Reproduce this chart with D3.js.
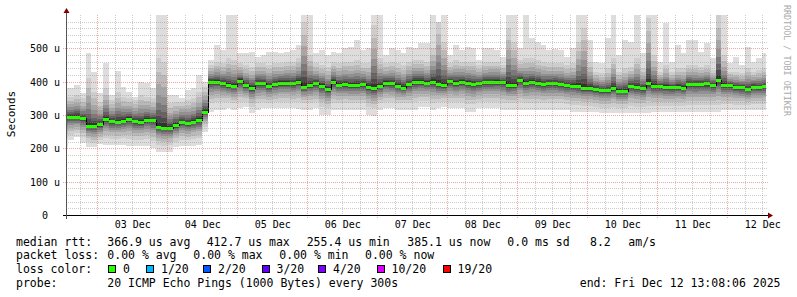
<!DOCTYPE html>
<html>
<head>
<meta charset="utf-8">
<title>smokeping rtt</title>
<script src="https://cdn.jsdelivr.net/npm/d3@7"></script>
<style>
    body { margin: 0; background: #fff; }
    svg { display: block; font-family: "DejaVu Sans Mono", monospace; }
    .axis path, .axis line { display: none; }
    .axis text { font-family: "DejaVu Sans Mono", monospace; font-size: 10px; fill: #000; }
</style>
</head>
<body>
<script>
// 2 hour bins, first one starts Dec 2 12:00 (UTC), values in microseconds
var binStart = Date.UTC(2025, 11, 2, 12);
var binMs = 2 * 3600 * 1000;
var endTime = Date.UTC(2025, 11, 12, 13, 8, 6);

var med = [295, 295, 295, 290, 268, 268, 272, 287, 281, 280,
    283, 289, 281, 279, 286, 284, 265, 262, 262, 270,
    279, 275, 280, 284, 310, 400, 400, 396, 390, 388,
    403, 390, 382, 396, 395, 387, 393, 397, 397, 395,
    400, 385, 390, 395, 388, 378, 400, 391, 393, 390,
    390, 392, 385, 380, 388, 397, 395, 388, 382, 392,
    400, 400, 397, 400, 392, 390, 401, 396, 400, 397,
    393, 395, 398, 399, 400, 398, 389, 390, 405, 396,
    399, 397, 392, 395, 396, 393, 390, 388, 386, 380,
    380, 378, 374, 374, 382, 373, 373, 387, 383, 380,
    395, 387, 386, 384, 383, 385, 382, 393, 392, 393,
    395, 390, 405, 389, 389, 384, 383, 378, 385, 383,
    386];

var hi = [380, 380, 390, 365, 485, 430, 365, 455, 360, 432,
    385, 370, 355, 400, 395, 380, 620, 620, 360, 360,
    350, 375, 380, 420, 400, 465, 510, 495, 620, 620,
    485, 485, 490, 475, 480, 490, 490, 485, 490, 495,
    510, 620, 620, 485, 495, 480, 490, 485, 500, 505,
    525, 495, 500, 620, 620, 480, 500, 495, 485, 505,
    500, 515, 515, 620, 540, 620, 480, 510, 495, 505,
    500, 465, 500, 500, 495, 475, 620, 620, 500, 620,
    530, 520, 510, 495, 497, 495, 475, 500, 620, 620,
    525, 460, 455, 530, 620, 480, 525, 520, 620, 485,
    620, 620, 460, 575, 460, 510, 485, 525, 525, 490,
    515, 470, 620, 620, 455, 475, 450, 505, 460, 470,
    485];

var p90 = [355, 355, 360, 350, 410, 370, 340, 380, 345, 370,
    355, 350, 345, 360, 355, 350, 470, 460, 335, 340,
    340, 345, 350, 370, 385, 450, 460, 455, 470, 465,
    455, 450, 445, 455, 455, 450, 455, 455, 460, 460,
    470, 580, 480, 455, 450, 445, 460, 455, 460, 460,
    465, 455, 455, 570, 470, 455, 460, 455, 450, 460,
    465, 465, 460, 500, 580, 520, 455, 465, 460, 460,
    460, 450, 460, 460, 460, 450, 560, 520, 465, 470,
    470, 465, 460, 455, 455, 455, 450, 455, 520, 560,
    460, 430, 425, 440, 470, 430, 440, 445, 470, 440,
    590, 480, 430, 450, 430, 440, 440, 450, 450, 445,
    450, 435, 600, 480, 430, 430, 425, 440, 430, 435,
    440];

var p10 = [230, 240, 245, 235, 220, 215, 225, 230, 228, 228,
    230, 228, 225, 225, 228, 222, 210, 208, 210, 220,
    225, 225, 228, 230, 265, 335, 340, 338, 340, 335,
    340, 340, 325, 335, 338, 335, 338, 340, 340, 338,
    340, 335, 335, 338, 325, 322, 335, 335, 335, 335,
    335, 335, 325, 320, 335, 340, 340, 335, 335, 335,
    338, 342, 342, 335, 338, 340, 340, 340, 340, 332,
    332, 338, 340, 340, 340, 335, 335, 335, 338, 335,
    335, 335, 335, 335, 335, 335, 333, 330, 330, 328,
    328, 325, 322, 322, 325, 322, 322, 328, 325, 325,
    328, 328, 328, 328, 328, 328, 328, 330, 330, 330,
    330, 330, 330, 332, 332, 330, 330, 330, 332, 332,
    332];

var lo = [205, 225, 235, 215, 205, 205, 212, 210, 210, 210,
    210, 207, 207, 207, 207, 200, 190, 190, 190, 205,
    207, 207, 207, 210, 250, 310, 315, 315, 320, 315,
    320, 325, 305, 315, 320, 320, 320, 320, 320, 320,
    317, 315, 315, 320, 300, 300, 315, 315, 315, 315,
    315, 315, 300, 297, 315, 320, 320, 315, 315, 315,
    315, 325, 325, 315, 320, 325, 320, 320, 320, 310,
    310, 320, 320, 320, 320, 315, 315, 315, 315, 315,
    315, 315, 315, 315, 315, 315, 315, 310, 310, 310,
    310, 308, 305, 305, 305, 305, 305, 305, 305, 305,
    305, 310, 310, 310, 310, 310, 310, 310, 310, 310,
    310, 310, 310, 315, 315, 315, 315, 315, 315, 315,
    315];

var yTicks = [0, 100, 200, 300, 400, 500];
var yLabels = ["  0  ", "100 u", "200 u", "300 u", "400 u", "500 u"];
var dayLabels = ["03 Dec", "04 Dec", "05 Dec", "06 Dec", "07 Dec", "08 Dec", "09 Dec", "10 Dec", "11 Dec", "12 Dec"];

var rttStats = ["366.9 us avg", "412.7 us max", "255.4 us min", "385.1 us now", "0.0 ms sd", "8.2", "am/s"];
var lossStats = ["0.00 % avg", "0.00 % max", "0.00 % min", "0.00 % now"];
var lossLabels = ["0", "1/20", "2/20", "3/20", "4/20", "10/20", "19/20"];
var lossColors = ["#26ff00", "#00b8ff", "#0059ff", "#5e00ff", "#7e00ff", "#dd00ff", "#ff0000"];
var probeText = "20 ICMP Echo Pings (1000 Bytes) every 300s";
var endText = "end: Fri Dec 12 13:08:06 2025";

var w = 797, h = 297;
var plotL = 65.6, plotR = 765.6, plotT = 15, plotB = 215;

var xScale = d3.scaleUtc()
    .domain([endTime - 10 * 86400000, endTime])
    .range([plotL, plotR]);
var yScale = d3.scaleLinear()
    .domain([0, 600])
    .range([plotB, plotT]);

var svg = d3.select("body").append("svg")
    .attr("width", w)
    .attr("height", h);

svg.append("defs").append("clipPath").attr("id", "plot")
    .append("rect")
    .attr("x", 66).attr("y", plotT)
    .attr("width", 700).attr("height", plotB - plotT);

var plot = svg.append("g").attr("clip-path", "url(#plot)")
    .attr("shape-rendering", "crispEdges");

var bins = med.map(function(m, i) {
    return {
        x0: Math.round(xScale(binStart + i * binMs)),
        x1: Math.round(xScale(binStart + (i + 1) * binMs)),
        med: m, lo: lo[i], hi: hi[i], p10: p10[i], p90: p90[i]
    };
});

// outer smoke, min to max
plot.append("g").selectAll("rect")
    .data(bins)
    .enter().append("rect")
    .attr("x", function(d) { return d.x0; })
    .attr("width", function(d) { return d.x1 - d.x0; })
    .attr("y", function(d) { return Math.round(yScale(d.hi)); })
    .attr("height", function(d) { return Math.round(yScale(d.lo)) - Math.round(yScale(d.hi)); })
    .attr("fill", "#dddddd");

// inner smoke, darker towards the median
var frac = [1, 0.8, 0.62, 0.47, 0.35, 0.24, 0.15, 0.07];
var shades = ["#cdcdcd", "#bababa", "#a6a6a6", "#919191", "#7a7a7a", "#636363", "#4b4b4b", "#333333"];
frac.forEach(function(f, j) {
    plot.append("g").selectAll("rect")
        .data(bins)
        .enter().append("rect")
        .attr("x", function(d) { return d.x0; })
        .attr("width", function(d) { return d.x1 - d.x0; })
        .attr("y", function(d) { return Math.round(yScale(d.med + (d.p90 - d.med) * f)); })
        .attr("height", function(d) {
            return Math.max(1, Math.round(yScale(d.med - (d.med - d.p10) * f)) - Math.round(yScale(d.med + (d.p90 - d.med) * f)));
        })
        .attr("fill", shades[j]);
});

// median line + loss colour band
var steps = bins.map(function(d) { return [d.x0, Math.round(yScale(d.med)) + 0.5]; });
steps.push([bins[bins.length - 1].x1, steps[steps.length - 1][1]]);
plot.append("path")
    .attr("d", d3.line().curve(d3.curveStepAfter)(steps))
    .attr("fill", "none")
    .attr("stroke", "#000")
    .attr("stroke-width", 1);

plot.append("g").selectAll("rect")
    .data(bins)
    .enter().append("rect")
    .attr("x", function(d) { return d.x0; })
    .attr("width", function(d) { return d.x1 - d.x0; })
    .attr("y", function(d) { return Math.round(yScale(d.med)) - 1; })
    .attr("height", 3)
    .attr("fill", lossColors[0]);

// grid on top
var grid = svg.append("g").attr("shape-rendering", "crispEdges");
var t0 = xScale.domain()[0], t1 = xScale.domain()[1];
var minorX = d3.utcHour.every(6).range(t0, t1).filter(function(d) { return d.getUTCHours() !== 0; });
var majorX = d3.utcDay.range(t0, t1);
var minorY = d3.range(20, 600, 20).filter(function(v) { return v % 100 !== 0; });
var majorY = yTicks.filter(function(v) { return v > 0; });

grid.selectAll(".mx").data(minorX).enter().append("line")
    .attr("x1", function(d) { return Math.round(xScale(d)) + 0.5; })
    .attr("x2", function(d) { return Math.round(xScale(d)) + 0.5; })
    .attr("y1", plotT).attr("y2", plotB)
    .attr("stroke", "rgba(143,143,143,0.45)").attr("stroke-dasharray", "1,1");
grid.selectAll(".my").data(minorY).enter().append("line")
    .attr("x1", 66).attr("x2", 768)
    .attr("y1", function(d) { return Math.round(yScale(d)) + 0.5; })
    .attr("y2", function(d) { return Math.round(yScale(d)) + 0.5; })
    .attr("stroke", "rgba(143,143,143,0.45)").attr("stroke-dasharray", "1,1");
grid.selectAll(".Mx").data(majorX).enter().append("line")
    .attr("x1", function(d) { return Math.round(xScale(d)) + 0.5; })
    .attr("x2", function(d) { return Math.round(xScale(d)) + 0.5; })
    .attr("y1", plotT).attr("y2", plotB + 3)
    .attr("stroke", "rgba(222,80,80,0.5)").attr("stroke-dasharray", "1,1");
grid.selectAll(".My").data(majorY).enter().append("line")
    .attr("x1", 63).attr("x2", 768)
    .attr("y1", function(d) { return Math.round(yScale(d)) + 0.5; })
    .attr("y2", function(d) { return Math.round(yScale(d)) + 0.5; })
    .attr("stroke", "rgba(222,80,80,0.5)").attr("stroke-dasharray", "1,1");

// axis lines and arrows
svg.append("line")
    .attr("x1", 63).attr("x2", 770).attr("y1", plotB + 0.5).attr("y2", plotB + 0.5)
    .attr("stroke", "#000").attr("shape-rendering", "crispEdges");
svg.append("line")
    .attr("x1", 66.5).attr("x2", 66.5).attr("y1", 12).attr("y2", plotB + 4)
    .attr("stroke", "#555").attr("shape-rendering", "crispEdges");
svg.append("path").attr("d", "M63.5,13 L66.5,8 L69.5,13 Z").attr("fill", "#7f0000");
svg.append("path").attr("d", "M768,212.5 L773,215.5 L768,218.5 Z").attr("fill", "#7f0000");

// axes labels through d3 axes
var noons = majorX.map(function(d) { return new Date(+d + 12 * 3600000); });
svg.append("g")
    .attr("class", "axis")
    .attr("transform", "translate(0," + (plotB + 3) + ")")
    .call(d3.axisBottom(xScale).tickValues(noons).tickSize(0).tickPadding(0)
        .tickFormat(function(d, i) { return dayLabels[i]; }))
    .selectAll("text").attr("dy", "0.71em").attr("y", 3);

svg.append("g")
    .attr("class", "axis")
    .attr("transform", "translate(66,0)")
    .call(d3.axisLeft(yScale).tickValues(yTicks).tickSize(0).tickPadding(6)
        .tickFormat(function(d, i) { return yLabels[i]; }))
    .selectAll("text").style("white-space", "pre").attr("dy", "0.36em");

svg.append("text")
    .attr("transform", "translate(14.8,114) rotate(-90)")
    .attr("text-anchor", "middle")
    .attr("font-size", "11px")
    .text("Seconds");

svg.append("text")
    .attr("transform", "translate(784,5) rotate(90)")
    .attr("font-size", "8.4px")
    .attr("fill", "#aaaaaa")
    .text("RRDTOOL / TOBI OETIKER");

// legend
var lg = svg.append("g").attr("font-size", "11.5px").style("white-space", "pre");
var rows = [245.5, 259, 272.8, 286.5];
["median rtt:", "packet loss:", "loss color:", "probe:"].forEach(function(s, i) {
    lg.append("text").attr("x", 16).attr("y", rows[i]).text(s);
});
var rttX = [107.3, 206.7, 306.7, 407.3, 507.3, 590, 628.3];
rttStats.forEach(function(s, i) {
    lg.append("text").attr("x", rttX[i]).attr("y", rows[0]).text(s);
});
var lossX = [107.3, 193.3, 279.3, 365];
lossStats.forEach(function(s, i) {
    lg.append("text").attr("x", lossX[i]).attr("y", rows[1]).text(s);
});
var boxX = [108, 146, 203, 261.5, 318, 376.5, 442.5];
lossColors.forEach(function(c, i) {
    lg.append("rect")
        .attr("x", boxX[i] + 0.5).attr("y", 265.5)
        .attr("width", 7).attr("height", 7)
        .attr("fill", c).attr("stroke", "#000").attr("shape-rendering", "crispEdges");
    lg.append("text").attr("x", boxX[i] + 15).attr("y", rows[2]).text(lossLabels[i]);
});
lg.append("text").attr("x", 107.3).attr("y", rows[3]).text(probeText);
lg.append("text").attr("x", 780.5).attr("y", rows[3]).attr("text-anchor", "end").text(endText);
</script>
</body>
</html>
